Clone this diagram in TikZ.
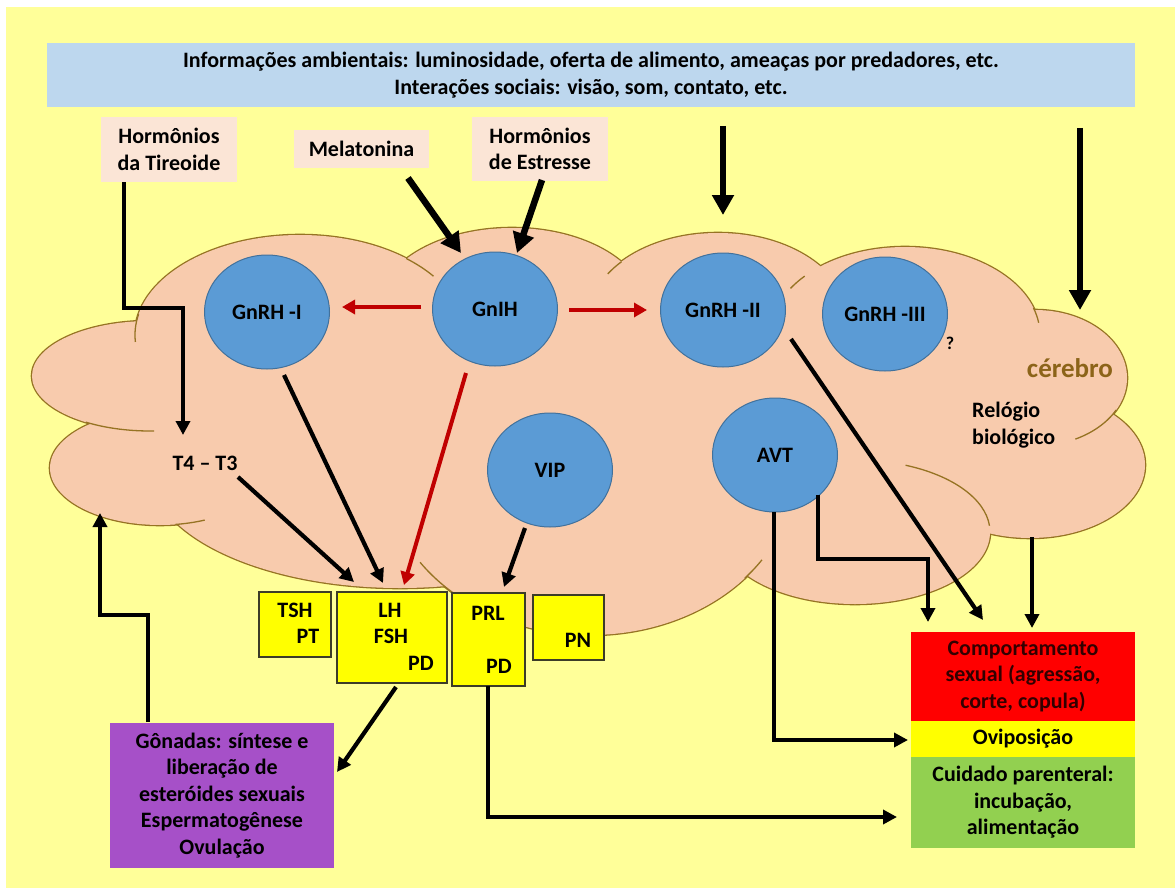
\documentclass[tikz,border=0pt]{standalone}
\usepackage{fontspec}
\setmainfont{Carlito}
\usetikzlibrary{shapes.geometric,arrows.meta,calc}
\definecolor{bgy}{RGB}{255,255,153}
\definecolor{banc}{RGB}{189,215,238}
\definecolor{pinkc}{RGB}{251,229,214}
\definecolor{cloudc}{RGB}{248,203,173}
\definecolor{cloudedge}{RGB}{150,115,35}
\definecolor{neuc}{RGB}{91,155,213}
\definecolor{neuedge}{RGB}{65,113,156}
\definecolor{ybc}{RGB}{255,255,0}
\definecolor{yedge}{RGB}{60,60,40}
\definecolor{purc}{RGB}{166,80,200}
\definecolor{redboxc}{RGB}{255,0,0}
\definecolor{greenc}{RGB}{146,208,80}
\definecolor{redar}{RGB}{192,0,0}
\definecolor{brainc}{RGB}{140,100,25}
\definecolor{darktxt}{RGB}{50,0,0}
\begin{document}
\begin{tikzpicture}[x=1pt,y=-1pt,
  txt/.style={font=\fontsize{22}{26.5}\selectfont\bfseries, inner sep=0pt, align=center, text=black},
  pinkbox/.style={rectangle, fill=pinkc, inner sep=0pt, txt},
  neuron/.style={ellipse, fill=neuc, draw=neuedge, line width=1pt, minimum width=125pt, minimum height=114pt, inner sep=0pt, txt},
  ybox/.style={rectangle, fill=ybc, draw=yedge, line width=1.2pt, inner sep=0pt},
  colbox/.style={rectangle, inner sep=0pt, minimum width=224pt, txt},
  bigarrow/.style={line width=6.5pt, -{Triangle[width=21pt,length=20pt]}},
  arrow/.style={line width=4.2pt, -{Triangle[width=14pt,length=14pt]}},
  elbow/.style={line width=4.2pt, line join=miter, -{Triangle[width=14pt,length=14pt]}},
  redarrow/.style={draw=redar, line width=4pt, -{Triangle[width=14pt,length=13pt]}},
  edge/.style={draw=cloudedge, line width=1.3pt}
]
\useasboundingbox (0,0) rectangle (1175,888);
\fill[white] (0,0) rectangle (1175,888);
\fill[bgy] (6,7) rectangle (1175,888);

% ---------- brain cloud ----------
\begin{scope}
\foreach \cx/\cy/\rx/\ry in {300/335/165/100, 150/376/118/55, 160/468/110/57, 400/470/250/118, 590/470/205/165, 855/532/135/72, 1030/465/115/73, 1035/378/92/68, 905/335/135/88, 718/320/130/87, 512/310/135/82}
  \draw[draw=cloudedge, line width=2.6pt] (\cx,\cy) ellipse[x radius=\rx, y radius=\ry];
\foreach \cx/\cy/\rx/\ry in {300/335/165/100, 150/376/118/55, 160/468/110/57, 400/470/250/118, 590/470/205/165, 855/532/135/72, 1030/465/115/73, 1035/378/92/68, 905/335/135/88, 718/320/130/87, 512/310/135/82}
  \fill[cloudc] (\cx,\cy) ellipse[x radius=\rx, y radius=\ry];
\fill[cloudc] (600,420) ellipse[x radius=400, y radius=150];
% internal arcs of the cloud
\draw[edge] (300,335) ++(192:165 and 100) arc[start angle=192, end angle=176, x radius=165, y radius=100];
\draw[edge] (150,376) ++(123:118 and 55) arc[start angle=123, end angle=88, x radius=118, y radius=55];
\draw[edge] (160,468) ++(82:110 and 57) arc[start angle=82, end angle=66, x radius=110, y radius=57];
\draw[edge] (590,470) ++(146:205 and 165) arc[start angle=146, end angle=131, x radius=205, y radius=165];
\draw[edge] (855,532) ++(-68:135 and 72) arc[start angle=-68, end angle=-5, x radius=135, y radius=72];
\draw[edge] (1035,378) ++(28:92 and 68) arc[start angle=28, end angle=64, x radius=92, y radius=68];
\draw[edge] (905,335) ++(-18:135 and 88) arc[start angle=-18, end angle=-8, x radius=135, y radius=88];
\draw[edge] (905,335) ++(222:135 and 88) arc[start angle=222, end angle=212, x radius=135, y radius=88];
\draw[edge] (718,320) ++(222:130 and 87) arc[start angle=222, end angle=212, x radius=130, y radius=87];
\draw[edge] (300,335) ++(-50:165 and 100) arc[start angle=-50, end angle=-36, x radius=165, y radius=100];
\draw[edge] (590,470) ++(41:205 and 165) arc[start angle=41, end angle=33, x radius=205, y radius=165];
\end{scope}

% ---------- top banner and hormone boxes ----------
\node[rectangle, fill=banc, minimum width=1088pt, minimum height=64pt, inner sep=0pt, txt, font=\fontsize{22}{27}\selectfont\bfseries] (banner) at (591,75)
  {Informações ambientais: luminosidade, oferta de alimento, ameaças por predadores, etc.\\Interações sociais: visão, som, contato, etc.};
\node[pinkbox, minimum width=136pt, minimum height=65pt] (tireoide) at (169,149.5) {Hormônios\\da Tireoide};
\node[pinkbox, minimum width=135pt, minimum height=38pt] (melatonina) at (361.5,149) {Melatonina};
\node[pinkbox, minimum width=136pt, minimum height=64pt] (estresse) at (540,149) {Hormônios\\de Estresse};

% ---------- neurons ----------
\node[neuron] (gnrh1) at (267,312) {GnRH -I};
\node[neuron] (gnih) at (495,309) {GnIH};
\node[neuron] (gnrh2) at (723,310) {GnRH -II};
\node[neuron] (gnrh3) at (885,314) {GnRH -III};
\node[neuron] (vip) at (550,470) {VIP};
\node[neuron] (avt) at (775,455) {AVT};
\node[txt, font=\fontsize{18}{20}\selectfont\bfseries] (qmark) at (950,343) {?};
\node[txt, font=\fontsize{27}{30}\selectfont\bfseries, text=brainc] (cerebro) at (1070,368) {cérebro};
\node[txt, align=left, anchor=west] (relogio) at (972,425) {Relógio\\biológico};
\node[txt] (t4t3) at (205,463) {T4 – T3};

% ---------- pituitary boxes ----------
\node[ybox, minimum width=72pt, minimum height=65pt] (tsh) at (295,624.5) {};
\node[txt] (tsh-a) at (295,610) {TSH};
\node[txt] (tsh-b) at (308,636) {PT};
\node[ybox, minimum width=110pt, minimum height=91pt] (lh) at (392,637.5) {};
\node[txt] (lh-a) at (390,610) {LH};
\node[txt] (lh-b) at (391,636) {FSH};
\node[txt] (lh-c) at (421,663) {PD};
\node[ybox, minimum width=73pt, minimum height=93pt] (prl) at (488.5,639.5) {};
\node[txt] (prl-a) at (488,613) {PRL};
\node[txt] (prl-b) at (499,666) {PD};
\node[ybox, minimum width=71pt, minimum height=65pt] (pn) at (568.5,627.5) {};
\node[txt] (pn-a) at (578,640) {PN};

% ---------- target boxes ----------
\node[rectangle, fill=purc, minimum width=224pt, minimum height=145pt, inner sep=0pt, txt] (gonadas) at (222,795.5)
  {Gônadas: síntese e\\liberação de\\esteróides sexuais\\Espermatogênese\\Ovulação};
\node[colbox, fill=redboxc, minimum height=89pt, text=darktxt] (comport) at (1023,676.5) {Comportamento\\sexual (agressão,\\corte, copula)};
\node[colbox, fill=ybc, minimum height=36pt] (ovipos) at (1023,739) {Oviposição};
\node[colbox, fill=greenc, minimum height=91pt] (cuidado) at (1023,802.5) {Cuidado parenteral:\\incubação,\\alimentação};

% ---------- connector end points ----------
\coordinate (env1) at (723,126);   \coordinate (env1e) at (723,215);
\coordinate (env2) at (1080,128);  \coordinate (env2e) at (1080,310);
\coordinate (mel-o) at (408,178);  \coordinate (gnih-i1) at (461,253);
\coordinate (est-o) at (542,180);  \coordinate (gnih-i2) at (517,253);
\coordinate (tir-o) at (124,182);  \coordinate (t4-i) at (183,435);
\coordinate (t4-o) at (238,477);   \coordinate (lh-i1) at (354,582);
\coordinate (g1-o) at (284,375);   \coordinate (lh-i2) at (383,583);
\coordinate (gnih-o3) at (466,373); \coordinate (lh-i3) at (404,585);
\coordinate (vip-o) at (525,528);  \coordinate (prl-i) at (504,587);
\coordinate (lh-o) at (396,687);   \coordinate (gon-i) at (337,772);
\coordinate (gon-o) at (148,722);  \coordinate (brain-i) at (100,513);
\coordinate (avt-o1) at (818,495); \coordinate (comp-i1) at (928,622);
\coordinate (g2-o) at (791,339);   \coordinate (comp-i2) at (983,620);
\coordinate (brain-o) at (1032,537); \coordinate (comp-i3) at (1032,628);
\coordinate (avt-o2) at (774,512); \coordinate (ovi-i) at (908,740);
\coordinate (prl-o) at (488,686);  \coordinate (cui-i) at (897,817);
\coordinate (gnih-o1) at (421,307); \coordinate (g1-i) at (342,307);
\coordinate (gnih-o2) at (569,310); \coordinate (g2-i) at (647,310);

% ---------- connectors ----------
\draw[bigarrow] (env1) -- (env1e);
\draw[bigarrow] (env2) -- (env2e);
\draw[bigarrow] (mel-o) -- (gnih-i1);
\draw[bigarrow] (est-o) -- (gnih-i2);
\draw[elbow] (tir-o) -- (124,308) -- (183,308) -- (t4-i);
\draw[arrow] (t4-o) -- (lh-i1);
\draw[arrow] (g1-o) -- (lh-i2);
\draw[arrow] (vip-o) -- (prl-i);
\draw[arrow] (lh-o) -- (gon-i);
\draw[elbow] (gon-o) -- (148,615) -- (100,615) -- (brain-i);
\draw[elbow] (avt-o1) -- (818,559) -- (928,559) -- (comp-i1);
\draw[arrow] (g2-o) -- (comp-i2);
\draw[arrow] (brain-o) -- (comp-i3);
\draw[elbow] (avt-o2) -- (774,740) -- (ovi-i);
\draw[elbow] (prl-o) -- (488,817) -- (cui-i);
\draw[redarrow] (gnih-o1) -- (g1-i);
\draw[redarrow] (gnih-o2) -- (g2-i);
\draw[redarrow] (gnih-o3) -- (lh-i3);
\end{tikzpicture}
\end{document}
